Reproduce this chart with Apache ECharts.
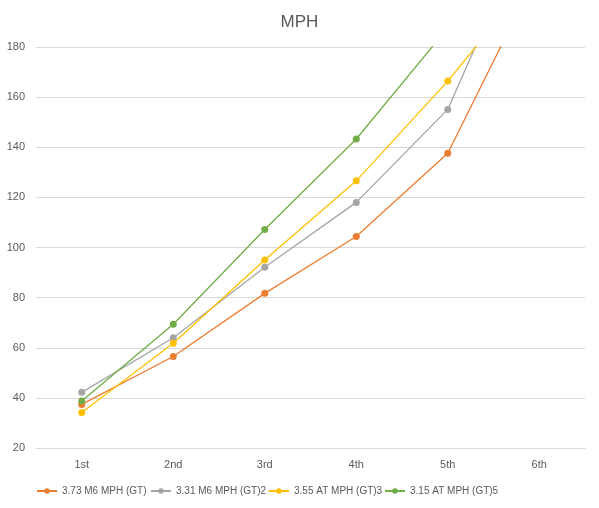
<!DOCTYPE html>
<html><head><meta charset="utf-8">
<script src="https://cdn.jsdelivr.net/npm/echarts@6/dist/echarts.min.js"></script>
<style>html,body{margin:0;padding:0;background:#fff}#c{width:599px;height:508px}</style>
</head><body><div id="c"></div>
<script>
const categories = ['1st','2nd','3rd','4th','5th','6th'];
const seriesNames = ['3.73 M6 MPH (GT)','3.31 M6 MPH (GT)2','3.55 AT MPH (GT)3','3.15 AT MPH (GT)5'];
const m6_373 = [37.4, 56.5, 81.7, 104.4, 137.6, 211];
const m6_331 = [42.2, 64.0, 92.1, 118.0, 155.1, 238];
const at_355 = [34.2, 61.8, 95.0, 126.6, 166.4, 211];
const at_315 = [38.8, 69.4, 107.2, 143.3, 187.6, 238];
const yTicks = [20, 180, 20]; // min, max, interval
const colors = ['#ED7D31','#A5A5A5','#FFC000','#70AD47'];
const data = [m6_373, m6_331, at_355, at_315];

const font = "'Liberation Sans', Arial, sans-serif";
const legendLeft = [36, 150, 268, 384];
const chart = echarts.init(document.getElementById('c'));
chart.setOption({
  animation: false,
  title: {text: 'MPH', left: 'center', top: 9, textStyle: {fontFamily: font, fontSize: 17, fontWeight: 'normal', color: '#595959'}},
  grid: {left: 36, right: 14, top: 47, bottom: 60},
  legend: seriesNames.map((n, i) => ({
    left: legendLeft[i], top: 486, padding: 0, itemWidth: 20, itemHeight: 7, itemGap: 4,
    textStyle: {fontFamily: font, fontSize: 10, color: '#595959'},
    data: [n]
  })),
  xAxis: {
    type: 'category', data: categories, boundaryGap: true,
    axisLine: {show: true, lineStyle: {color: '#D9D9D9'}},
    axisTick: {show: false},
    axisLabel: {fontFamily: font, fontSize: 11, color: '#595959', margin: 11}
  },
  yAxis: {
    type: 'value', min: yTicks[0], max: yTicks[1], interval: yTicks[2],
    axisLine: {show: false}, axisTick: {show: false},
    splitLine: {lineStyle: {color: '#D9D9D9'}},
    axisLabel: {fontFamily: font, fontSize: 11, color: '#595959', margin: 11}
  },
  series: seriesNames.map((n, i) => ({
    name: n, type: 'line', data: data[i], clip: true,
    symbol: 'circle', symbolSize: 7,
    lineStyle: {width: 1.3, color: colors[i]},
    itemStyle: {color: colors[i]}
  }))
});
</script></body></html>
